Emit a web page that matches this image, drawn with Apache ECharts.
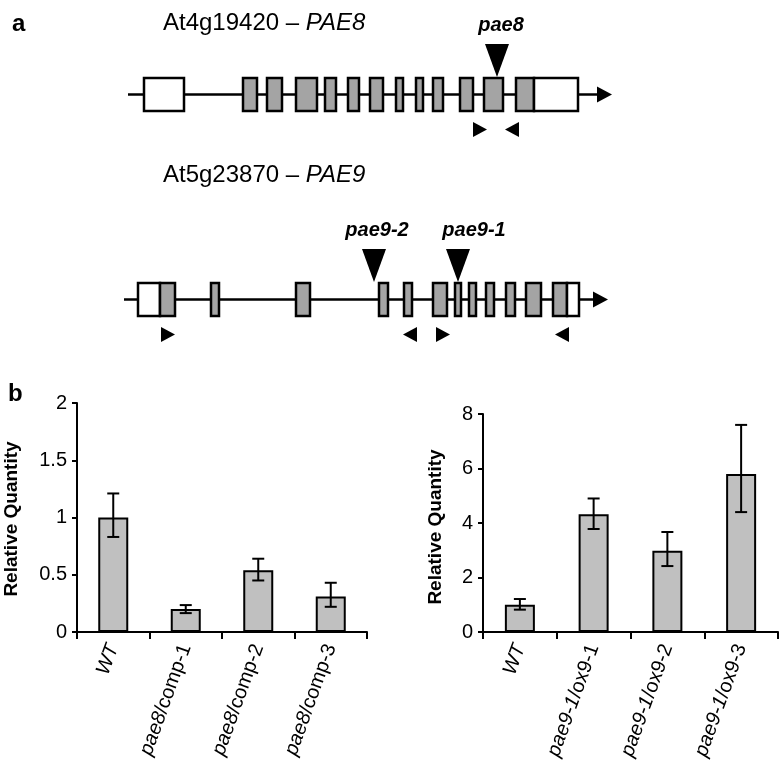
<!DOCTYPE html>
<html>
<head>
<meta charset="utf-8">
<script src="https://cdn.jsdelivr.net/npm/echarts@6/dist/echarts.min.js"></script>
<style>
  html, body { margin: 0; padding: 0; background: #fff; }
  #fig { width: 780px; height: 767px; }
</style>
</head>
<body>
<div id="fig"></div>
<script>
// ---- panel a: gene models (positions along the drawn locus) ----
const pae8Span = [[128, 612]];
// [start, end, kind]  kind 0 = UTR (white), 1 = coding exon (grey)
const pae8Exons = [
  [144, 184, 0], [243, 257, 1], [267, 282, 1], [296, 317, 1], [325, 336, 1],
  [348, 359, 1], [370, 383, 1], [396, 403, 1], [416, 423, 1], [433, 443, 1],
  [460, 473, 1], [484, 503, 1], [516, 534, 1], [534, 578, 0]
];
// [insertion site, label centre]
const pae8Insertions = [[497, 501]];
const pae8InsertionNames = ["pae8"];
// [position, direction]  1 = forward primer, -1 = reverse primer
const pae8Primers = [[480, 1], [512, -1]];

const pae9Span = [[124, 608]];
const pae9Exons = [
  [138, 160, 0], [160, 175, 1], [211, 219, 1], [296, 310, 1], [379, 388, 1],
  [404, 412, 1], [433, 447, 1], [455, 461, 1], [469, 476, 1], [486, 494, 1],
  [506, 515, 1], [526, 541, 1], [553, 567, 1], [567, 579, 0]
];
const pae9Insertions = [[374, 377], [458, 474]];
const pae9InsertionNames = ["pae9-2", "pae9-1"];
const pae9Primers = [[168, 1], [410, -1], [443, 1], [562, -1]];

// ---- panel b: qRT-PCR ----
const pae8Lines = ["{i|WT}", "{i|pae8}{n|/comp-1}", "{i|pae8}{n|/comp-2}", "{i|pae8}{n|/comp-3}"];
const pae8Quantity = [1.0, 0.2, 0.54, 0.31];
const pae8ErrLow = [0.83, 0.165, 0.45, 0.22];
const pae8ErrHigh = [1.21, 0.235, 0.64, 0.43];
const pae8Ticks = [0, 0.5, 1, 1.5, 2];

const pae9Lines = ["{i|WT}", "{i|pae9-1}{n|/ox9-1}", "{i|pae9-1}{n|/ox9-2}", "{i|pae9-1}{n|/ox9-3}"];
const pae9Quantity = [1.0, 4.32, 2.98, 5.8];
const pae9ErrLow = [0.82, 3.78, 2.42, 4.4];
const pae9ErrHigh = [1.21, 4.9, 3.67, 7.6];
const pae9Ticks = [0, 2, 4, 6, 8];

const FONT = "'Liberation Sans', Arial, Helvetica, sans-serif";
const EXON_GREY = "#a4a4a4";
const BAR_GREY = "#c0c0c0";

function renderSpan(params, api) {
  const a = api.coord([api.value(0), 0.5]);
  const b = api.coord([api.value(1), 0.5]);
  const head = 15, half = 8;
  return {
    type: "group",
    children: [
      { type: "line", shape: { x1: a[0], y1: a[1], x2: b[0] - head + 1, y2: b[1] },
        style: { stroke: "#000", lineWidth: 2.5 } },
      { type: "polygon", shape: { points: [[b[0] - head, b[1] - half], [b[0], b[1]], [b[0] - head, b[1] + half]] },
        style: { fill: "#000" } }
    ]
  };
}

function renderExon(params, api) {
  const p0 = api.coord([api.value(0), 1]);
  const p1 = api.coord([api.value(1), 0]);
  return {
    type: "rect",
    shape: { x: p0[0], y: p0[1], width: p1[0] - p0[0], height: p1[1] - p0[1] },
    style: { fill: api.value(2) ? EXON_GREY : "#fff", stroke: "#000", lineWidth: 2.5 }
  };
}

function insertionRenderer(names) {
  return function (params, api) {
    const tip = api.coord([api.value(0), 1]);
    const lab = api.coord([api.value(1), 1]);
    return {
      type: "group",
      children: [
        { type: "polygon", shape: { points: [[tip[0] - 12, tip[1] - 34], [tip[0] + 12, tip[1] - 34], [tip[0], tip[1] - 1]] },
          style: { fill: "#000" } },
        { type: "text", x: lab[0], y: lab[1] - 53,
          style: { text: names[params.dataIndex], fill: "#000", font: "italic bold 20px " + FONT,
                   align: "center", verticalAlign: "middle" } }
      ]
    };
  };
}

function renderPrimer(params, api) {
  const p = api.coord([api.value(0), 0]);
  const d = api.value(1);
  const cy = p[1] + 18.5, w = 14, h = 7.5;
  const back = p[0] - d * w / 2, front = p[0] + d * w / 2;
  return {
    type: "polygon",
    shape: { points: [[back, cy - h], [front, cy], [back, cy + h]] },
    style: { fill: "#000" }
  };
}

function renderErr(params, api) {
  const x = api.coord([api.value(0), 0])[0];
  const lo = api.coord([api.value(0), api.value(1)])[1];
  const hi = api.coord([api.value(0), api.value(2)])[1];
  const cap = 6;
  const st = { stroke: "#000", lineWidth: 2 };
  return {
    type: "group",
    children: [
      { type: "line", shape: { x1: x, y1: lo, x2: x, y2: hi }, style: st },
      { type: "line", shape: { x1: x - cap, y1: hi, x2: x + cap, y2: hi }, style: st },
      { type: "line", shape: { x1: x - cap, y1: lo, x2: x + cap, y2: lo }, style: st }
    ]
  };
}

const geneAxisX = { type: "value", min: 0, max: 780, show: false };
const geneAxisY = { type: "value", min: 0, max: 1, show: false };

function catAxis(gridIndex, labels) {
  return {
    type: "category", gridIndex: gridIndex, data: labels, boundaryGap: true,
    axisLine: { show: true, lineStyle: { color: "#000", width: 2 } },
    axisTick: { show: true, interval: 0, length: 7, lineStyle: { color: "#000", width: 2 } },
    axisLabel: {
      interval: 0, rotate: 70, margin: 13, hideOverlap: false,
      color: "#000", fontSize: 20, fontFamily: FONT,
      rich: {
        i: { fontStyle: "italic", fontSize: 20, fontFamily: FONT, color: "#000" },
        n: { fontStyle: "normal", fontSize: 20, fontFamily: FONT, color: "#000" }
      }
    },
    splitLine: { show: false }
  };
}

function valAxis(gridIndex, ticks) {
  return {
    type: "value", gridIndex: gridIndex,
    min: ticks[0], max: ticks[ticks.length - 1], interval: ticks[1] - ticks[0],
    axisLine: { show: true, lineStyle: { color: "#000", width: 2 } },
    axisTick: { show: true, length: 5, lineStyle: { color: "#000", width: 2 } },
    axisLabel: { color: "#000", fontSize: 20, fontFamily: FONT, margin: 10 },
    splitLine: { show: false }
  };
}

const errData = (lo, hi) => lo.map((v, i) => [i, v, hi[i]]);

const chart = echarts.init(document.getElementById("fig"), null, { renderer: "canvas" });
chart.setOption({
  animation: false,
  backgroundColor: "#fff",
  textStyle: { fontFamily: FONT, color: "#000" },
  grid: [
    { left: 0, top: 78, width: 780, height: 33, outerBoundsMode: "none" },
    { left: 0, top: 283, width: 780, height: 33, outerBoundsMode: "none" },
    { left: 77, top: 403, width: 290, height: 229, outerBoundsMode: "none" },
    { left: 483, top: 414, width: 295, height: 218, outerBoundsMode: "none" }
  ],
  xAxis: [
    Object.assign({ gridIndex: 0 }, geneAxisX),
    Object.assign({ gridIndex: 1 }, geneAxisX),
    catAxis(2, pae8Lines),
    catAxis(3, pae9Lines)
  ],
  yAxis: [
    Object.assign({ gridIndex: 0 }, geneAxisY),
    Object.assign({ gridIndex: 1 }, geneAxisY),
    valAxis(2, pae8Ticks),
    valAxis(3, pae9Ticks)
  ],
  graphic: [
    { type: "text", x: 12, y: 24, style: { text: "a", font: "bold 24px " + FONT, fill: "#000", verticalAlign: "middle" } },
    { type: "text", x: 163, y: 23, style: { text: "At4g19420 – {i|PAE8}", font: "24px " + FONT, fill: "#000", verticalAlign: "middle",
      rich: { i: { fontStyle: "italic", fontSize: 24, fontFamily: FONT } } } },
    { type: "text", x: 163, y: 175, style: { text: "At5g23870 – {i|PAE9}", font: "24px " + FONT, fill: "#000", verticalAlign: "middle",
      rich: { i: { fontStyle: "italic", fontSize: 24, fontFamily: FONT } } } },
    { type: "text", x: 8, y: 394, style: { text: "b", font: "bold 24px " + FONT, fill: "#000", verticalAlign: "middle" } },
    { type: "text", x: 12, y: 519, rotation: Math.PI / 2,
      style: { text: "Relative Quantity", font: "bold 19px " + FONT, fill: "#000", align: "center", verticalAlign: "middle" } },
    { type: "text", x: 436, y: 527, rotation: Math.PI / 2,
      style: { text: "Relative Quantity", font: "bold 19px " + FONT, fill: "#000", align: "center", verticalAlign: "middle" } }
  ],
  series: [
    // PAE8 gene model
    { type: "custom", xAxisIndex: 0, yAxisIndex: 0, clip: false, z: 1, encode: { x: [0, 1] }, data: pae8Span, renderItem: renderSpan },
    { type: "custom", xAxisIndex: 0, yAxisIndex: 0, clip: false, z: 2, encode: { x: [0, 1] }, data: pae8Exons, renderItem: renderExon },
    { type: "custom", xAxisIndex: 0, yAxisIndex: 0, clip: false, z: 3, encode: { x: [0, 1] }, data: pae8Insertions, renderItem: insertionRenderer(pae8InsertionNames) },
    { type: "custom", xAxisIndex: 0, yAxisIndex: 0, clip: false, z: 3, encode: { x: 0 }, data: pae8Primers, renderItem: renderPrimer },
    // PAE9 gene model
    { type: "custom", xAxisIndex: 1, yAxisIndex: 1, clip: false, z: 1, encode: { x: [0, 1] }, data: pae9Span, renderItem: renderSpan },
    { type: "custom", xAxisIndex: 1, yAxisIndex: 1, clip: false, z: 2, encode: { x: [0, 1] }, data: pae9Exons, renderItem: renderExon },
    { type: "custom", xAxisIndex: 1, yAxisIndex: 1, clip: false, z: 3, encode: { x: [0, 1] }, data: pae9Insertions, renderItem: insertionRenderer(pae9InsertionNames) },
    { type: "custom", xAxisIndex: 1, yAxisIndex: 1, clip: false, z: 3, encode: { x: 0 }, data: pae9Primers, renderItem: renderPrimer },
    // bar charts
    { type: "bar", xAxisIndex: 2, yAxisIndex: 2, data: pae8Quantity, barWidth: 30,
      itemStyle: { color: BAR_GREY, borderColor: "#000", borderWidth: 2 } },
    { type: "custom", xAxisIndex: 2, yAxisIndex: 2, z: 5, clip: false, encode: { x: 0, y: [1, 2] },
      data: errData(pae8ErrLow, pae8ErrHigh), renderItem: renderErr },
    { type: "bar", xAxisIndex: 3, yAxisIndex: 3, data: pae9Quantity, barWidth: 30,
      itemStyle: { color: BAR_GREY, borderColor: "#000", borderWidth: 2 } },
    { type: "custom", xAxisIndex: 3, yAxisIndex: 3, z: 5, clip: false, encode: { x: 0, y: [1, 2] },
      data: errData(pae9ErrLow, pae9ErrHigh), renderItem: renderErr }
  ]
});
</script>
</body>
</html>
